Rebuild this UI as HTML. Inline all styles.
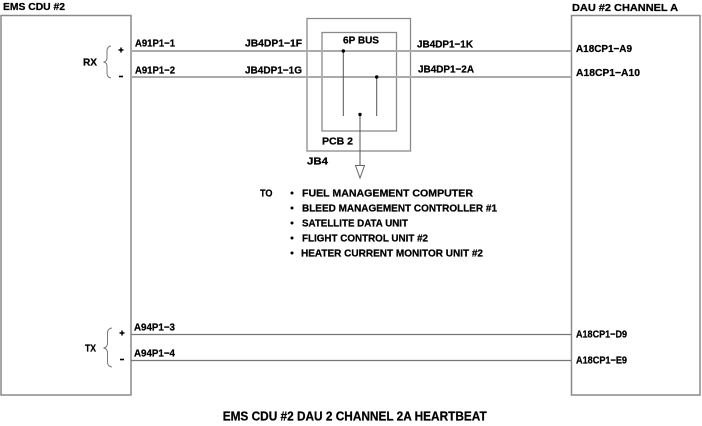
<!DOCTYPE html>
<html>
<head>
<meta charset="utf-8">
<style>
html,body{margin:0;padding:0;background:#fff;}
svg{display:block;}
text{font-family:"Liberation Sans",Arial,sans-serif;font-weight:bold;font-size:10.4px;fill:#000;stroke:#000;stroke-width:0.25px;}
</style>
</head>
<body>
<svg width="702" height="426" viewBox="0 0 702 426" xmlns="http://www.w3.org/2000/svg">
<rect x="0" y="0" width="702" height="426" fill="#fff"/>

<!-- main boxes -->
<rect x="1" y="15.5" width="130" height="379.5" fill="none" stroke="#8a8a8a" stroke-width="1.5"/>
<rect x="571.5" y="15.5" width="128.5" height="379.5" fill="none" stroke="#8a8a8a" stroke-width="1.5"/>

<!-- JB4 box & PCB -->
<rect x="307" y="18.5" width="103.5" height="132.5" fill="none" stroke="#8a8a8a" stroke-width="1.3"/>
<rect x="322" y="32.5" width="74.5" height="98.5" fill="none" stroke="#8a8a8a" stroke-width="1.3"/>

<!-- RX lines -->
<line x1="131" y1="51" x2="571.5" y2="51" stroke="#aaaaaa" stroke-width="2"/>
<line x1="131" y1="77" x2="571.5" y2="77" stroke="#aaaaaa" stroke-width="2"/>

<!-- TX lines -->
<line x1="131" y1="334.5" x2="571.5" y2="334.5" stroke="#777" stroke-width="1.2"/>
<line x1="131" y1="360.5" x2="571.5" y2="360.5" stroke="#777" stroke-width="1.2"/>

<!-- bus internals -->
<line x1="343.3" y1="51" x2="343.3" y2="116" stroke="#555" stroke-width="1"/>
<line x1="376.7" y1="77" x2="376.7" y2="116" stroke="#555" stroke-width="1"/>
<line x1="360" y1="114.5" x2="360" y2="165.5" stroke="#555" stroke-width="1"/>
<circle cx="343.3" cy="51" r="1.7" fill="#000"/>
<circle cx="376.7" cy="77" r="1.7" fill="#000"/>
<circle cx="360" cy="114.5" r="1.7" fill="#000"/>
<polygon points="355.5,165.5 364.5,165.5 360,178" fill="#fff" stroke="#666" stroke-width="1"/>

<!-- braces -->
<path d="M111,46 Q107,46.5 107,51 L107,58 Q107,61.5 103.5,62 Q107,62.5 107,66 L107,73 Q107,77.5 111,78" fill="none" stroke="#777" stroke-width="1"/>
<path d="M112,328 Q107.5,328.5 107.5,333 L107.5,343 Q107.5,347.5 103.5,348 Q107.5,348.5 107.5,353 L107.5,362 Q107.5,366.5 112,367" fill="none" stroke="#777" stroke-width="1"/>

<!-- +/- markers -->
<line x1="118.5" y1="50" x2="123.5" y2="50" stroke="#000" stroke-width="1.5"/>
<line x1="121" y1="47.5" x2="121" y2="52.5" stroke="#000" stroke-width="1.5"/>
<line x1="119" y1="76.5" x2="123" y2="76.5" stroke="#000" stroke-width="1.6"/>
<line x1="119.5" y1="333" x2="124.5" y2="333" stroke="#000" stroke-width="1.5"/>
<line x1="122" y1="330.5" x2="122" y2="335.5" stroke="#000" stroke-width="1.5"/>
<line x1="120" y1="359.5" x2="124" y2="359.5" stroke="#000" stroke-width="1.6"/>

<!-- headings -->
<text x="3" y="10" textLength="62" lengthAdjust="spacingAndGlyphs">EMS CDU #2</text>
<text x="572" y="11" textLength="106" lengthAdjust="spacingAndGlyphs">DAU #2 CHANNEL A</text>

<!-- RX labels -->
<text x="83" y="65.6" textLength="14" lengthAdjust="spacingAndGlyphs">RX</text>
<text x="135" y="46.6" textLength="40" lengthAdjust="spacingAndGlyphs">A91P1−1</text>
<text x="135" y="73.6" textLength="40" lengthAdjust="spacingAndGlyphs">A91P1−2</text>
<text x="245" y="46.6" textLength="57" lengthAdjust="spacingAndGlyphs">JB4DP1−1F</text>
<text x="245" y="73.6" textLength="57" lengthAdjust="spacingAndGlyphs">JB4DP1−1G</text>
<text x="343" y="43.6" textLength="36" lengthAdjust="spacingAndGlyphs">6P BUS</text>
<text x="417" y="47.6" textLength="56" lengthAdjust="spacingAndGlyphs">JB4DP1−1K</text>
<text x="418" y="72.6" textLength="56" lengthAdjust="spacingAndGlyphs">JB4DP1−2A</text>
<text x="576" y="52" textLength="56" lengthAdjust="spacingAndGlyphs">A18CP1−A9</text>
<text x="576" y="76" textLength="64" lengthAdjust="spacingAndGlyphs">A18CP1−A10</text>
<text x="322" y="144.6" textLength="31" lengthAdjust="spacingAndGlyphs">PCB 2</text>
<text x="307" y="164.6" textLength="21" lengthAdjust="spacingAndGlyphs">JB4</text>

<!-- destination list -->
<text x="260" y="196.6" textLength="12.5" lengthAdjust="spacingAndGlyphs">TO</text>
<circle cx="292" cy="193" r="1.5" fill="#000"/>
<circle cx="292" cy="208" r="1.5" fill="#000"/>
<circle cx="292" cy="223" r="1.5" fill="#000"/>
<circle cx="292" cy="238" r="1.5" fill="#000"/>
<circle cx="292" cy="253" r="1.5" fill="#000"/>
<text x="302" y="196.6" textLength="171" lengthAdjust="spacingAndGlyphs">FUEL MANAGEMENT COMPUTER</text>
<text x="302" y="211.6" textLength="195" lengthAdjust="spacingAndGlyphs">BLEED MANAGEMENT CONTROLLER #1</text>
<text x="302" y="226.6" textLength="106" lengthAdjust="spacingAndGlyphs">SATELLITE DATA UNIT</text>
<text x="302" y="241.6" textLength="126" lengthAdjust="spacingAndGlyphs">FLIGHT CONTROL UNIT #2</text>
<text x="301" y="256.6" textLength="182" lengthAdjust="spacingAndGlyphs">HEATER CURRENT MONITOR UNIT #2</text>

<!-- TX labels -->
<text x="85" y="351.6" textLength="11" lengthAdjust="spacingAndGlyphs">TX</text>
<text x="134" y="330.6" textLength="41" lengthAdjust="spacingAndGlyphs">A94P1−3</text>
<text x="134" y="356.6" textLength="41" lengthAdjust="spacingAndGlyphs">A94P1−4</text>
<text x="576" y="337.6" textLength="51" lengthAdjust="spacingAndGlyphs">A18CP1−D9</text>
<text x="576" y="363.6" textLength="51" lengthAdjust="spacingAndGlyphs">A18CP1−E9</text>

<!-- title -->
<text x="222.7" y="420.5" style="font-size:13px" textLength="264" lengthAdjust="spacingAndGlyphs">EMS CDU #2 DAU 2 CHANNEL 2A HEARTBEAT</text>
</svg>
</body>
</html>
